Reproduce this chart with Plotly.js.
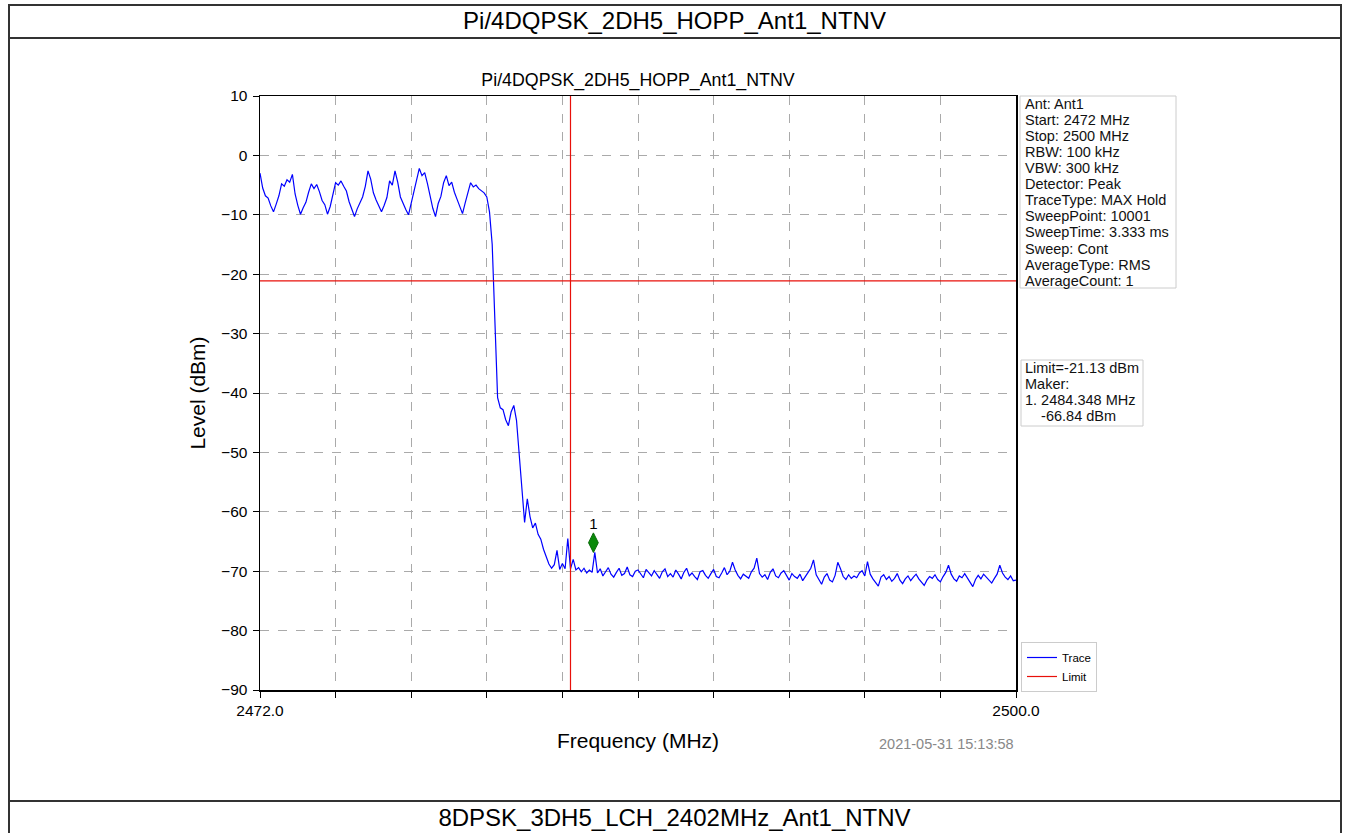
<!DOCTYPE html>
<html>
<head>
<meta charset="utf-8">
<script src="https://cdn.plot.ly/plotly-3.0.1.min.js"></script>
<style>
  html, body { margin: 0; padding: 0; background: #fff; }
  #wrap { position: relative; width: 1348px; height: 833px; overflow: hidden; font-family: "Liberation Sans", Arial, sans-serif; }
  #plot { position: absolute; left: 0; top: 0; width: 1348px; height: 833px; }
  .hl { position: absolute; height: 1.5px; background: #333; left: 8px; width: 1333px; }
  .vl { position: absolute; width: 1.5px; background: #333; top: 4px; height: 829px; }
  .hdr { position: absolute; left: 8px; width: 1333px; text-align: center; font-size: 24px; line-height: 26px; color: #000; }
</style>
</head>
<body>
<div id="wrap">
  <div id="plot"></div>
  <div class="hl" style="top:4px"></div>
  <div class="hl" style="top:37px"></div>
  <div class="hl" style="top:800px"></div>
  <div class="vl" style="left:8px"></div>
  <div class="vl" style="left:1340px"></div>
  <div class="hdr" id="hdrTop" style="top:8px"></div>
  <div class="hdr" id="hdrBottom" style="top:805px"></div>
</div>
<script>
// ---- data ----
const chartTitle = "Pi/4DQPSK_2DH5_HOPP_Ant1_NTNV";
const nextTitle = "8DPSK_3DH5_LCH_2402MHz_Ant1_NTNV";
const startFreq = 2472.0;   // MHz
const stopFreq = 2500.0;    // MHz
const freqStep = 0.1;       // MHz, display resolution of the read-off trace
const traceLevel = [
  -3.0, -5.5, -6.8, -7.2, -8.5, -9.5, -8.2, -6.8, -4.8, -5.2,
  -4.1, -4.5, -3.2, -6.5, -8.4, -9.9, -8.8, -7.9, -6.2, -4.8,
  -5.6, -4.9, -6.1, -7.6, -8.3, -9.9, -8.6, -6.4, -4.6, -5.0,
  -4.3, -5.2, -6.0, -7.8, -9.2, -10.3, -9.0, -8.1, -7.0, -5.2,
  -2.6, -4.0, -6.3, -7.5, -8.6, -9.5, -8.4, -7.1, -4.3, -5.0,
  -2.6, -4.5, -7.0, -8.2, -9.1, -10.0, -8.0, -6.2, -3.9, -2.2,
  -3.4, -2.9, -4.7, -6.8, -8.9, -10.3, -8.1, -6.9, -4.6, -3.4,
  -5.1, -4.5, -6.2, -7.4, -8.5, -9.8, -8.0, -6.3, -4.6, -5.3,
  -5.0, -5.6, -6.0, -6.3, -7.0, -9.5, -15.0, -29.0, -40.8, -42.5,
  -42.8, -44.5, -45.5, -43.2, -42.1, -44.6, -50.5, -57.5, -61.8, -57.8,
  -60.8, -62.7, -61.9, -63.8, -64.6, -66.3, -67.5, -68.8, -69.5, -68.9,
  -66.5, -69.7, -68.7, -69.6, -64.5, -69.6, -68.0, -69.8, -69.4, -70.1,
  -69.5, -70.3, -69.8, -70.2, -66.84,
  -70.3, -69.6, -70.8, -70.1, -69.4, -70.5, -71.0, -70.2, -69.5, -70.7, -70.4, -69.3, -70.6, -70.9, -70.0, -69.8,
  -70.5, -71.1, -69.7, -70.3, -70.8, -69.9, -70.6, -71.2, -70.1, -69.6, -70.9, -70.4, -71.0, -69.8, -70.5, -71.3, -70.2, -69.5, -70.8, -70.3,
  -70.9, -71.4, -70.1, -69.9, -70.7, -71.2, -70.4, -69.7, -70.9, -71.1, -70.3, -69.4, -70.6, -70.0, -68.5, -69.8, -70.7, -71.3, -70.5, -70.9,
  -71.2, -70.1, -69.5, -67.8, -70.4, -71.0, -70.6, -71.4, -70.2, -69.6, -70.8, -71.1, -70.3, -69.9, -70.7, -71.5, -70.4, -70.9, -71.2, -70.5,
  -71.6, -70.8, -70.2, -69.5, -68.1, -70.6, -71.3, -72.2, -71.0, -70.4, -71.5, -71.8, -70.7, -68.5, -69.6, -70.9, -71.4, -70.6, -71.2, -70.8,
  -71.1, -70.3, -69.9, -70.8, -68.4, -70.5, -71.3, -71.9, -72.5, -71.0, -70.6, -71.4, -70.9, -71.7, -71.2, -70.4, -71.5, -72.1, -71.3, -70.8,
  -71.6, -71.0, -70.5, -71.3, -71.8, -72.4, -71.5, -70.9, -71.2, -70.6, -71.4, -71.8, -70.9, -70.2, -69.0, -70.5, -71.3, -71.7, -70.8, -71.1,
  -70.4, -71.2, -71.9, -72.6, -71.4, -70.7, -71.3, -70.5, -71.0, -71.6, -72.0, -71.2, -70.5, -69.0, -70.3, -71.0, -71.4, -70.8, -71.6, -71.5
];
const limitLevel = -21.13;        // dBm
const bandEdge = 2483.5;          // MHz (vertical red line)
const markerFreq = 2484.348;      // MHz
const markerShownLevel = -65.2;   // dBm, where the diamond is drawn
const markerLabel = "1";
const yTickVals = [10, 0, -10, -20, -30, -40, -50, -60, -70, -80, -90];
const xTickVals = [2472.0, 2474.8, 2477.6, 2480.4, 2483.2, 2486.0, 2488.8, 2491.6, 2494.4, 2497.2, 2500.0];
const xTickText = ["2472.0", "", "", "", "", "", "", "", "", "", "2500.0"];
const infoLines = ["Ant: Ant1", "Start: 2472 MHz", "Stop: 2500 MHz", "RBW: 100 kHz", "VBW: 300 kHz",
  "Detector: Peak", "TraceType: MAX Hold", "SweepPoint: 10001", "SweepTime: 3.333 ms", "Sweep: Cont",
  "AverageType: RMS", "AverageCount: 1"];
const markerLines = ["Limit=-21.13 dBm", "Maker:", "1. 2484.348 MHz", "\u00a0\u00a0\u00a0\u00a0-66.84 dBm"];
const timestamp = "2021-05-31 15:13:58";

// ---- build ----
document.getElementById('hdrTop').textContent = chartTitle;
document.getElementById('hdrBottom').textContent = nextTitle;

const freq = traceLevel.map((_, i) => Math.round((startFreq + i * freqStep) * 1000) / 1000);
const FONT = '"Liberation Sans", Arial, sans-serif';

// plot area in pixels (for placing side panels)
const PL = 260, PR = 1016, PT = 96, PB = 690;
const px2x = p => (p - PL) / (PR - PL);
const px2y = p => (PB - p) / (PB - PT);

const data = [
  { x: freq, y: traceLevel, type: 'scatter', mode: 'lines', name: 'Trace',
    line: { color: '#0000ff', width: 1.2 }, hoverinfo: 'skip' },
  { x: [startFreq, stopFreq], y: [limitLevel, limitLevel], type: 'scatter', mode: 'lines', name: 'Limit',
    line: { color: '#e8100a', width: 1.2 }, hoverinfo: 'skip' },
  { x: [bandEdge, bandEdge], y: [-90, 10], type: 'scatter', mode: 'lines', showlegend: false,
    line: { color: '#e8100a', width: 1.2 }, hoverinfo: 'skip' },
  { x: [markerFreq], y: [markerShownLevel], type: 'scatter', mode: 'markers+text', showlegend: false,
    text: [markerLabel], textposition: 'top center', textfont: { size: 15, color: '#000', family: FONT },
    marker: { symbol: 'diamond-tall', size: 14, color: '#0a8a0a', line: { color: '#0a6a0a', width: 1 } },
    hoverinfo: 'skip', cliponaxis: false }
];

const annotations = [];
const shapes = [];
// info box
shapes.push({ type: 'rect', xref: 'paper', yref: 'paper', x0: px2x(1020), x1: px2x(1176), y0: px2y(96), y1: px2y(288),
  line: { color: '#cccccc', width: 1 }, fillcolor: '#fff', layer: 'above' });
infoLines.forEach((t, i) => annotations.push({
  xref: 'paper', yref: 'paper', x: px2x(1023), y: px2y(104 + i * 16.06), xanchor: 'left', yanchor: 'middle',
  text: t, showarrow: false, align: 'left', font: { size: 14.5, family: FONT, color: '#111' } }));
// marker box
shapes.push({ type: 'rect', xref: 'paper', yref: 'paper', x0: px2x(1021), x1: px2x(1143), y0: px2y(360), y1: px2y(426),
  line: { color: '#cccccc', width: 1 }, fillcolor: '#fff', layer: 'above' });
markerLines.forEach((t, i) => annotations.push({
  xref: 'paper', yref: 'paper', x: px2x(1023), y: px2y(367.5 + i * 16.2), xanchor: 'left', yanchor: 'middle',
  text: t, showarrow: false, align: 'left', font: { size: 14.5, family: FONT, color: '#111' } }));
// timestamp
annotations.push({ xref: 'paper', yref: 'paper', x: px2x(946), y: px2y(744), xanchor: 'center', yanchor: 'middle',
  text: timestamp, showarrow: false, font: { size: 14.5, family: FONT, color: '#888' } });

const layout = {
  width: 1348, height: 833,
  margin: { l: PL, r: 1348 - PR, t: PT, b: 833 - PB },
  paper_bgcolor: 'rgba(0,0,0,0)', plot_bgcolor: '#fff',
  font: { family: FONT, color: '#000' },
  showlegend: true,
  title: { text: chartTitle, font: { size: 17.8, family: FONT, color: '#000' },
    x: 0.5 * (PL + PR) / 1348, xanchor: 'center', y: 1 - 80 / 833, yanchor: 'middle' },
  xaxis: {
    range: [startFreq, stopFreq], tickmode: 'array', tickvals: xTickVals, ticktext: xTickText,
    showline: true, linecolor: '#000', linewidth: 1.5, mirror: true,
    ticks: 'outside', ticklen: 6, tickcolor: '#000', tickwidth: 1,
    showgrid: true, gridcolor: '#aaaaaa', griddash: 'dash', gridwidth: 1,
    zeroline: false, tickfont: { size: 15.5, family: FONT },
    title: { text: 'Frequency (MHz)', font: { size: 21, family: FONT }, standoff: 15 }
  },
  yaxis: {
    range: [-90, 10], tickmode: 'array', tickvals: yTickVals,
    showline: true, linecolor: '#000', linewidth: 1.5, mirror: true,
    ticks: 'outside', ticklen: 6, tickcolor: '#000', tickwidth: 1, ticklabelstandoff: 2,
    showgrid: true, gridcolor: '#aaaaaa', griddash: 'dash', gridwidth: 1,
    zeroline: false, tickfont: { size: 15.5, family: FONT },
    title: { text: 'Level (dBm)', font: { size: 21, family: FONT }, standoff: 10 }
  },
  legend: {
    x: px2x(1021), xanchor: 'left', y: px2y(692), yanchor: 'bottom',
    bgcolor: '#fff', bordercolor: '#cccccc', borderwidth: 1,
    font: { size: 11.5, family: FONT }, itemwidth: 30, tracegroupgap: 0
  },
  shapes: shapes,
  annotations: annotations
};

Plotly.newPlot('plot', data, layout, { staticPlot: true, displayModeBar: false });
</script>
</body>
</html>
